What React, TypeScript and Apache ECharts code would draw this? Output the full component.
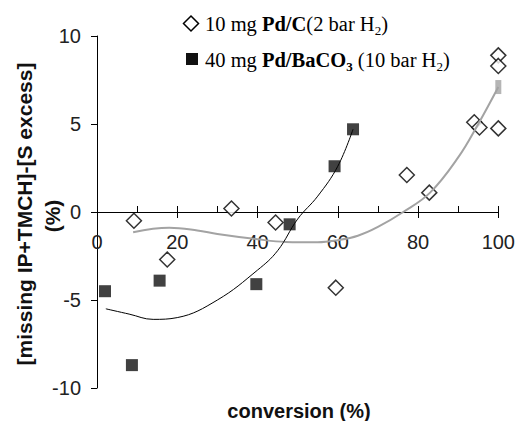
import React, { useEffect, useRef } from 'react';
import * as echarts from 'echarts';

// 10 mg Pd/C (2 bar H2) – open diamonds
const pdCConversion = [9.2, 17.5, 33.5, 44.5, 59.5, 77.2, 82.8, 94.0, 95.3, 100, 100, 100];
const pdCExcess = [-0.5, -2.7, 0.2, -0.6, -4.3, 2.1, 1.1, 5.1, 4.8, 4.75, 8.9, 8.3];

// 40 mg Pd/BaCO3 (10 bar H2) – filled squares
const pdBaConversion = [2.0, 8.7, 15.6, 39.7, 48.0, 59.2, 63.8];
const pdBaExcess = [-4.5, -8.7, -3.9, -4.1, -0.7, 2.6, 4.7];

// trend line through the Pd/BaCO3 points (black)
const pdBaTrendX = [2.2, 8, 14, 20, 30, 40, 45, 50, 55, 60, 63.8];
const pdBaTrendY = [-5.5, -5.8, -6.1, -6.0, -5.0, -3.3, -2.2, -0.4, 0.9, 2.6, 4.7];

// trend line through the Pd/C points (grey)
const pdCTrendX = [9, 18, 25, 30, 40, 47, 55, 60, 65, 70, 76.3, 83, 90, 95, 100];
const pdCTrendY = [-1.15, -0.9, -1.05, -1.25, -1.55, -1.7, -1.72, -1.6, -1.35, -0.85, 0, 1.1, 3.1, 5.0, 7.1];
const pdCTrendEnd = [[100, 7.1]];

const yTicks = { min: -10, max: 10, step: 5 };
const xTicks = { min: 0, max: 100, minorStep: 10, majorStep: 20 };

const xTitle = 'conversion (%)';
const yTitleLines = ['[missing IP+TMCH]-[S excess]', '(%)'];

const zip = (xs: number[], ys: number[]) => xs.map((x, i) => [x, ys[i]]);

export default function App() {
  const ref = useRef<HTMLDivElement>(null);

  useEffect(() => {
    if (!ref.current) return;
    const chart = echarts.init(ref.current, undefined, { renderer: 'svg' });
    const sans = 'Liberation Sans, Arial, sans-serif';
    const serif = 'Liberation Serif, Times New Roman, serif';
    const rich = {
      n: { fontFamily: serif, fontSize: 20.5, color: '#111', lineHeight: 26, verticalAlign: 'middle' },
      b: { fontFamily: serif, fontSize: 20.5, fontWeight: 'bold', color: '#111', lineHeight: 26, verticalAlign: 'middle' },
      s: { fontFamily: serif, fontSize: 13, color: '#111', lineHeight: 14, verticalAlign: 'bottom' },
      bs: { fontFamily: serif, fontSize: 13, fontWeight: 'bold', color: '#111', lineHeight: 14, verticalAlign: 'bottom' },
    };

    const gridTop = 36;
    const gridBottom = 33;
    const plotH = 421 - gridTop - gridBottom;
    // distance from the plot's bottom edge up to the zero line
    const zeroOffset = -plotH * (0 - yTicks.min) / (yTicks.max - yTicks.min);

    chart.setOption({
      animation: false,
      backgroundColor: '#fff',
      grid: { left: 97, right: 17.3, top: gridTop, bottom: gridBottom, containLabel: false },
      xAxis: [
        {
          type: 'value',
          min: xTicks.min,
          max: xTicks.max,
          interval: xTicks.minorStep,
          axisLine: { onZero: true, lineStyle: { color: '#000', width: 1 } },
          axisTick: { inside: true, length: 6, lineStyle: { color: '#000', width: 1 } },
          axisLabel: { show: false },
          splitLine: { show: false },
        },
        {
          type: 'value',
          min: xTicks.min,
          max: xTicks.max,
          interval: xTicks.majorStep,
          position: 'bottom',
          offset: zeroOffset,
          axisLine: { show: false, onZero: false },
          axisTick: { inside: false, length: 6, lineStyle: { color: '#000', width: 1 } },
          axisLabel: { margin: 20, fontSize: 20, fontFamily: sans, color: '#222' },
          splitLine: { show: false },
        },
      ],
      yAxis: {
        type: 'value',
        min: yTicks.min,
        max: yTicks.max,
        interval: yTicks.step,
        axisLine: { show: true, onZero: false, lineStyle: { color: '#000', width: 1 } },
        axisTick: { show: true, inside: false, length: 6, lineStyle: { color: '#000' } },
        axisLabel: { margin: 16, fontSize: 20, fontFamily: sans, color: '#222' },
        splitLine: { show: false },
      },
      series: [
        {
          name: '10 mg Pd/C (2 bar H2)',
          type: 'scatter',
          data: zip(pdCConversion, pdCExcess),
          symbol: 'diamond',
          symbolSize: 15,
          itemStyle: { color: '#fff', borderColor: '#000', borderWidth: 1.5 },
          z: 2,
        },
        {
          name: '40 mg Pd/BaCO3 (10 bar H2)',
          type: 'scatter',
          data: zip(pdBaConversion, pdBaExcess),
          symbol: 'rect',
          symbolSize: 12,
          itemStyle: { color: '#111' },
          z: 2,
        },
        {
          name: 'Pd/C trend',
          type: 'line',
          data: zip(pdCTrendX, pdCTrendY),
          showSymbol: false,
          smooth: 0.4,
          lineStyle: { color: '#a3a3a3', width: 2 },
          z: 3,
        },
        {
          name: 'Pd/C trend end',
          type: 'scatter',
          data: pdCTrendEnd,
          symbol: 'rect',
          symbolSize: [6, 14],
          itemStyle: { color: '#a3a3a3' },
          z: 3,
        },
        {
          name: 'Pd/BaCO3 trend',
          type: 'line',
          data: zip(pdBaTrendX, pdBaTrendY),
          showSymbol: false,
          smooth: 0.4,
          lineStyle: { color: '#000', width: 1 },
          z: 3,
        },
      ],
      graphic: [
        {
          type: 'polygon',
          shape: { points: [[191, 16], [198.5, 23.5], [191, 31], [183.5, 23.5]] },
          style: { fill: '#fff', stroke: '#000', lineWidth: 1.5 },
        },
        {
          type: 'rect',
          shape: { x: 186, y: 53, width: 12, height: 12 },
          style: { fill: '#111' },
        },
        {
          type: 'text',
          x: 205,
          y: 24,
          style: {
            text: '{n|10 mg }{b|Pd/C}{n|(2 bar H}{s|2}{n|)}',
            rich,
            verticalAlign: 'middle',
            align: 'left',
          },
        },
        {
          type: 'text',
          x: 205,
          y: 60,
          style: {
            text: '{n|40 mg }{b|Pd/BaCO}{bs|3}{n| (10 bar H}{s|2}{n|)}',
            rich,
            verticalAlign: 'middle',
            align: 'left',
          },
        },
        {
          type: 'text',
          x: 299,
          y: 411,
          style: {
            text: xTitle,
            fontFamily: sans,
            fontSize: 20,
            fontWeight: 'bold',
            fill: '#111',
            align: 'center',
            verticalAlign: 'middle',
          },
        },
        {
          type: 'text',
          x: 24,
          y: 214,
          rotation: Math.PI / 2,
          style: {
            text: yTitleLines[0],
            fontFamily: sans,
            fontSize: 21,
            fontWeight: 'bold',
            fill: '#111',
            align: 'center',
            verticalAlign: 'middle',
          },
        },
        {
          type: 'text',
          x: 52,
          y: 216,
          rotation: Math.PI / 2,
          style: {
            text: yTitleLines[1],
            fontFamily: sans,
            fontSize: 21,
            fontWeight: 'bold',
            fill: '#111',
            align: 'center',
            verticalAlign: 'middle',
          },
        },
      ],
    });

    return () => chart.dispose();
  }, []);

  return (
    <div
      ref={ref}
      style={{ position: 'fixed', left: 0, top: 0, width: 518, height: 421, background: '#fff' }}
    />
  );
}
